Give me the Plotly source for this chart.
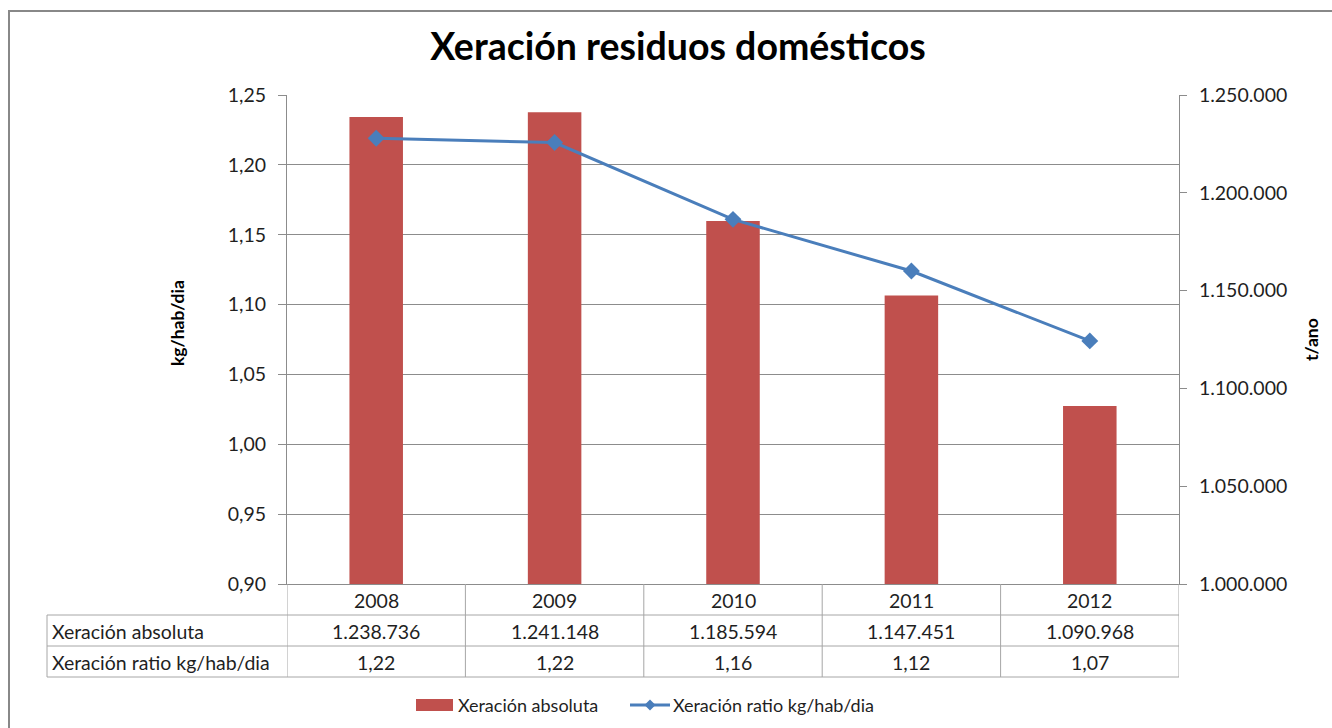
import plotly.graph_objects as go

# Series data
years = ["2008", "2009", "2010", "2011", "2012"]
absolute_t = [1238736, 1241148, 1185594, 1147451, 1090968]
ratio_kg = [1.219, 1.216, 1.161, 1.124, 1.074]

row_labels = ["Xeración absoluta", "Xeración ratio kg/hab/dia"]
title_text = "Xeración residuos domésticos"
left_title = "kg/hab/dia"
right_title = "t/ano"

BAR_COLOR = "#C0504D"
LINE_COLOR = "#4A7EBB"
GRID = "#8C8C8C"
TABLE = "#A6A6A6"
TEXT = "#1F1F1F"
FONT = "Lato"

W, H = 1332, 728
PL, PR, PT, PB = 287, 1179, 95, 584


def fx(px):
    return (px - PL) / (PR - PL)


def fy(py):
    return (PB - py) / (PB - PT)


def fmt_int(v):
    return f"{v:,}".replace(",", ".")


def fmt_ratio(v):
    return f"{v:.2f}".replace(".", ",")


fig = go.Figure()

# bars on the base (right-hand) axis
fig.add_trace(go.Bar(
    x=years, y=absolute_t, name=row_labels[0],
    marker=dict(color=BAR_COLOR, line=dict(width=0)),
    yaxis="y", showlegend=False,
))

# ratio line on the overlaying left axis, drawn above the bars
fig.add_trace(go.Scatter(
    x=years, y=ratio_kg, name=row_labels[1], mode="lines+markers",
    line=dict(color=LINE_COLOR, width=3),
    marker=dict(symbol="diamond", size=13, color=LINE_COLOR),
    yaxis="y2", showlegend=False,
))

shapes = []
annotations = []


def label(x, y, text, xref="paper", xanchor="center", font=None, **kw):
    annotations.append(dict(x=x, xref=xref, y=y, yref="paper", text=text,
                            xanchor=xanchor, yanchor="middle",
                            showarrow=False, font=font, **kw))


# outer chart frame
shapes.append(dict(type="rect", xref="paper", yref="paper",
                   x0=fx(9), x1=fx(W + 20), y0=fy(11), y1=fy(H + 20),
                   line=dict(color="#888888", width=2), layer="below"))

# data table grid
for py in (615, 646, 677):
    shapes.append(dict(type="line", xref="paper", yref="paper",
                       x0=fx(47), x1=1, y0=fy(py), y1=fy(py),
                       line=dict(color=TABLE, width=1)))
for k in range(len(years) + 1):
    shapes.append(dict(type="line", xref="x", yref="paper",
                       x0=k - 0.5, x1=k - 0.5, y0=0, y1=fy(677),
                       line=dict(color=TABLE, width=1)))
shapes.append(dict(type="line", xref="paper", yref="paper",
                   x0=fx(47), x1=fx(47), y0=fy(615), y1=fy(677),
                   line=dict(color=TABLE, width=1)))

cell_font = dict(family=FONT, size=19.5, color=TEXT)
for i, (yr, a, r) in enumerate(zip(years, absolute_t, ratio_kg)):
    label(i, fy(600), yr, xref="x", font=cell_font)
    label(i, fy(631), fmt_int(a), xref="x", font=cell_font)
    label(i, fy(662), fmt_ratio(r), xref="x", font=cell_font)
for lbl, py in zip(row_labels, (631, 662)):
    label(fx(50), fy(py), lbl, xanchor="left", font=cell_font)

# axis titles
title_font = dict(family=FONT, size=17.5, color="#000000")
label(fx(177), fy(323), f"<b>{left_title}</b>", font=title_font,
      textangle=-90)
label(fx(1311), fy(340), f"<b>{right_title}</b>", font=title_font,
      textangle=-90)

# legend
legend_font = dict(family=FONT, size=18, color=TEXT)
shapes.append(dict(type="rect", xref="paper", yref="paper",
                   x0=fx(416), x1=fx(453), y0=fy(711), y1=fy(699),
                   fillcolor=BAR_COLOR, line=dict(width=0)))
label(fx(456), fy(705), row_labels[0], xanchor="left", font=legend_font)
shapes.append(dict(type="line", xref="paper", yref="paper",
                   x0=fx(630), x1=fx(670), y0=fy(705), y1=fy(705),
                   line=dict(color=LINE_COLOR, width=3)))
cx, cy, d = 650, 705, 5.5
shapes.append(dict(type="path", xref="paper", yref="paper",
                   path=(f"M{fx(cx - d)},{fy(cy)} L{fx(cx)},{fy(cy - d)} "
                         f"L{fx(cx + d)},{fy(cy)} L{fx(cx)},{fy(cy + d)} Z"),
                   fillcolor=LINE_COLOR, line=dict(width=0)))
label(fx(671), fy(705), row_labels[1], xanchor="left", font=legend_font)

tick_font = dict(family=FONT, size=19.5, color=TEXT)

fig.update_layout(
    width=W, height=H,
    margin=dict(l=PL, r=W - PR, t=PT, b=H - PB, pad=0),
    paper_bgcolor="white", plot_bgcolor="white",
    separators=",.",
    bargap=0.70,
    title=dict(text=f"<b>{title_text}</b>", x=678 / W, xref="container",
               xanchor="center", y=1 - 47 / H, yref="container",
               yanchor="middle",
               font=dict(family=FONT, size=37.5, color="#000000")),
    xaxis=dict(type="category", range=[-0.5, len(years) - 0.5],
               showticklabels=False, ticks="", showgrid=False,
               showline=True, linecolor=GRID, linewidth=1,
               zeroline=False),
    yaxis=dict(side="right", range=[1000000, 1250000], dtick=50000,
               tickformat=",.0f", showgrid=False, zeroline=False,
               showline=True, linecolor=GRID, linewidth=1,
               ticks="outside", ticklen=7, tickcolor=GRID,
               tickfont=tick_font, ticklabelstandoff=8),
    yaxis2=dict(side="left", overlaying="y", range=[0.90, 1.25],
                dtick=0.05, tickformat=".2f", showgrid=True,
                gridcolor=GRID, gridwidth=1, zeroline=False,
                showline=True, linecolor=GRID, linewidth=1,
                ticks="outside", ticklen=8, tickcolor=GRID,
                tickfont=tick_font, ticklabelstandoff=8),
    shapes=shapes,
    annotations=annotations,
    showlegend=False,
)

fig.write_html("out.html")
